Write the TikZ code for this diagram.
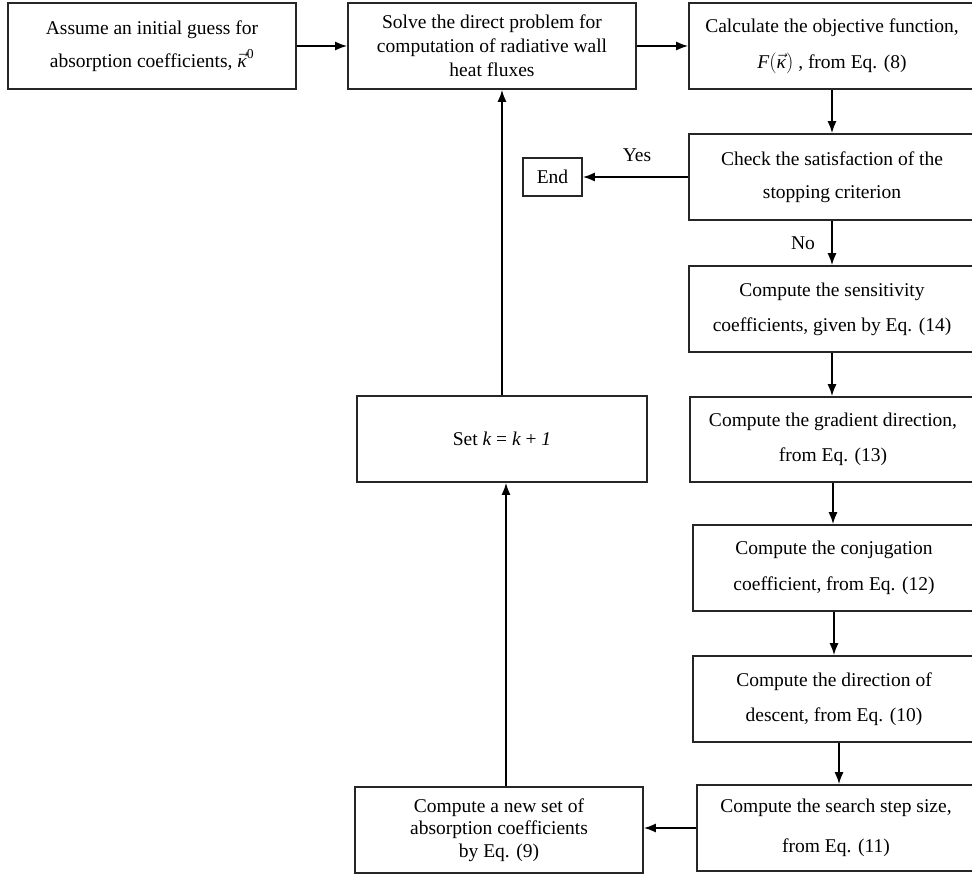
\documentclass[tikz,border=0pt]{standalone}
\usepackage{fontspec}
\usepackage{amsmath}
\setmainfont{Liberation Serif}
\usetikzlibrary{arrows.meta}
\tikzset{
  box/.style={draw=black!85, line width=1.6pt, rectangle, inner sep=0pt, align=center, font=\fontsize{19.5}{33}\selectfont},
  conn/.style={line width=1.8pt, -{Latex[length=12pt,width=9pt]}},
  lbl/.style={font=\fontsize{19.5}{24}\selectfont, inner sep=0pt}
}
\newcommand{\kapvec}{\vec{\text{\itshape κ}}}
\begin{document}
\begin{tikzpicture}[x=1pt,y=-1pt]
\useasboundingbox (0,0) rectangle (972,875);
\clip (0,0) rectangle (972,875);
% boxes
\node[box, minimum width=288pt, minimum height=86pt] (A) at (152,46)
  {Assume an initial guess for\\absorption coefficients, $\kapvec^{\text{0}}$};
\node[box, minimum width=288pt, minimum height=86pt, font=\fontsize{19.5}{24}\selectfont] (B) at (492,46)
  {Solve the direct problem for\\computation of radiative wall\\heat fluxes};
\node[box, minimum width=286pt, minimum height=86pt, font=\fontsize{19.5}{36}\selectfont] (C) at (832,46)
  {Calculate the objective function,\\$\text{\itshape F}(\kapvec)$ , from Eq. (8)};
\node[box, minimum width=286pt, minimum height=86pt] (D) at (832,177)
  {Check the satisfaction of the\\stopping criterion};
\node[box, minimum width=59pt, minimum height=38pt] (End) at (552.5,177) {End};
\node[box, minimum width=286pt, minimum height=86pt, font=\fontsize{19.5}{35}\selectfont] (E) at (832,309)
  {Compute the sensitivity\\coefficients, given by Eq. (14)};
\node[box, minimum width=286pt, minimum height=85pt, font=\fontsize{19.5}{35}\selectfont] (F) at (833,439.5)
  {Compute the gradient direction,\\from Eq. (13)};
\node[box, minimum width=282pt, minimum height=86pt, font=\fontsize{19.5}{36}\selectfont] (G) at (834,568)
  {Compute the conjugation\\coefficient, from Eq. (12)};
\node[box, minimum width=282pt, minimum height=86pt, font=\fontsize{19.5}{35}\selectfont] (H) at (834,699)
  {Compute the direction of\\descent, from Eq. (10)};
\node[box, minimum width=278pt, minimum height=86pt, font=\fontsize{19.5}{40}\selectfont] (I) at (836,828)
  {Compute the search step size,\\from Eq. (11)};
\node[box, minimum width=288pt, minimum height=86pt, font=\fontsize{19.5}{22.5}\selectfont] (J) at (499,830)
  {Compute a new set of\\absorption coefficients\\by Eq. (9)};
\node[box, minimum width=290pt, minimum height=86pt] (K) at (502,439)
  {Set {\itshape k} = {\itshape k} + {\itshape 1}};
% labels
\node[lbl] (yes) at (637,155) {Yes};
\node[lbl] (no) at (803,243) {No};
% connectors
\draw[conn] (A.east) -- (B.west);
\draw[conn] (B.east) -- (C.west);
\draw[conn] (C.south -| D.north) -- (D.north);
\draw[conn] (D.west) -- (End.east);
\draw[conn] (D.south) -- (E.north);
\draw[conn] (E.south) -- (E.south |- F.north);
\draw[conn] (F.south) -- (F.south |- G.north);
\draw[conn] (G.south) -- (G.south |- H.north);
\draw[conn] ([xshift=5pt]H.south) -- ([xshift=5pt]H.south |- I.north);
\draw[conn] (I.west) -- (I.west -| J.east);
\draw[conn] ([xshift=7pt]J.north) -- ([xshift=7pt]J.north |- K.south);
\draw[conn] (K.north) -- (K.north |- B.south);
\end{tikzpicture}
\end{document}
